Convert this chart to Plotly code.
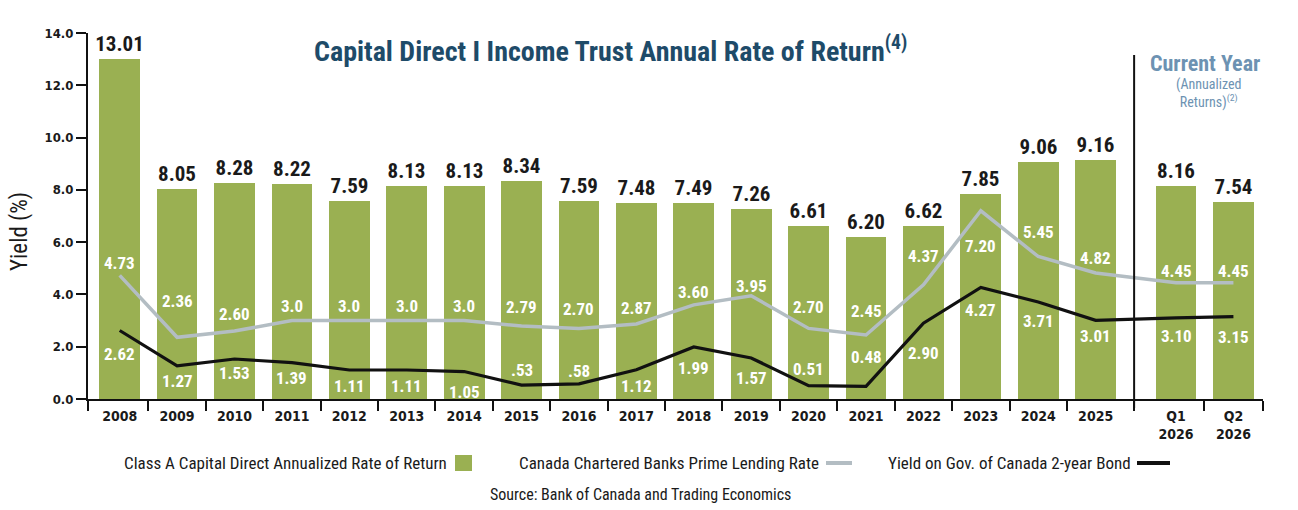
import plotly.graph_objects as go

# ---------------- data ----------------
categories = ["2008", "2009", "2010", "2011", "2012", "2013", "2014", "2015", "2016",
              "2017", "2018", "2019", "2020", "2021", "2022", "2023", "2024", "2025",
              "Q1<br>2026", "Q2<br>2026"]
class_a_return = [13.01, 8.05, 8.28, 8.22, 7.59, 8.13, 8.13, 8.34, 7.59, 7.48, 7.49, 7.26,
                  6.61, 6.20, 6.62, 7.85, 9.06, 9.16, 8.16, 7.54]
prime_rate = [4.73, 2.36, 2.60, 3.0, 3.0, 3.0, 3.0, 2.79, 2.70, 2.87, 3.60, 3.95,
              2.70, 2.45, 4.37, 7.20, 5.45, 4.82, 4.45, 4.45]
prime_text = ["4.73", "2.36", "2.60", "3.0", "3.0", "3.0", "3.0", "2.79", "2.70", "2.87",
              "3.60", "3.95", "2.70", "2.45", "4.37", "7.20", "5.45", "4.82", "4.45", "4.45"]
bond_yield = [2.62, 1.27, 1.53, 1.39, 1.11, 1.11, 1.05, 0.53, 0.58, 1.12, 1.99, 1.57,
              0.51, 0.48, 2.90, 4.27, 3.71, 3.01, 3.10, 3.15]
bond_text = ["2.62", "1.27", "1.53", "1.39", "1.11", "1.11", "1.05", ".53", ".58", "1.12",
             "1.99", "1.57", "0.51", "0.48", "2.90", "4.27", "3.71", "3.01", "3.10", "3.15"]
y_ticks = [0, 2, 4, 6, 8, 10, 12, 14]

# ---------------- styles / layout helpers ----------------
prime_label_shift = [12, 36, 17, 15, 15, 15, 15, 19, 19, 16, 13, 10, 21, 24, 29, -35, 25, 15, 12, 12]
bond_label_shift = [-23, -15, -14, -15, -16, -16, -20, 15, 13, -16, -21, -20, 17, 29, -30, -23, -19, -16, -18, -20]

W, H = 1298, 510
L, R, T, B = 88, 35, 33, 111
PW, PH = W - L - R, H - T - B

def px(xp):
    return (xp - L) / PW

def py(yp):
    return (H - B - yp) / PH

# quarterly entries sit after a wider gap
n_years = 18
x_pos = [i if i < n_years else i + 0.4 for i in range(len(categories))]
x_range = [-0.552, 19.915]

GREEN = "#9AB052"
GRAY = "#B3BDC3"
BLACK = "#111111"
NARROW = "Roboto Condensed, DejaVu Sans Condensed, sans-serif"
COND = "DejaVu Sans Condensed, sans-serif"

fig = go.Figure()
fig.add_trace(go.Bar(
    x=x_pos, y=class_a_return, width=0.71, marker=dict(color=GREEN, line=dict(width=0)),
    texttemplate="%{y:.2f}", textposition="outside", cliponaxis=False,
    constraintext="none",
    textfont=dict(family=NARROW, size=21, color="#1a1a1a", weight="bold"),
    showlegend=False, name="Class A Capital Direct Annualized Rate of Return"))
fig.add_trace(go.Scatter(
    x=x_pos, y=prime_rate, mode="lines", line=dict(color=GRAY, width=3.5),
    showlegend=False, name="Canada Chartered Banks Prime Lending Rate"))
fig.add_trace(go.Scatter(
    x=x_pos, y=bond_yield, mode="lines", line=dict(color=BLACK, width=3.2),
    showlegend=False, name="Yield on Gov. of Canada 2-year Bond"))

annotations = []
lab_font = dict(family=NARROW, size=17, color="white", weight="bold")
for xv, yv, t, s in zip(x_pos, prime_rate, prime_text, prime_label_shift):
    annotations.append(dict(x=xv, y=yv, xref="x", yref="y", text=t, showarrow=False,
                            xanchor="center", yanchor="middle", yshift=s, font=lab_font))
for xv, yv, t, s in zip(x_pos, bond_yield, bond_text, bond_label_shift):
    annotations.append(dict(x=xv, y=yv, xref="x", yref="y", text=t, showarrow=False,
                            xanchor="center", yanchor="middle", yshift=s, font=lab_font))

def note(xp, yp, text, font, xanchor="center", angle=0):
    annotations.append(dict(x=px(xp), y=py(yp), xref="paper", yref="paper", showarrow=False,
                            xanchor=xanchor, yanchor="middle", text=text, textangle=angle,
                            font=font, align="center"))

BLUE_T = "#1E4B69"
BLUE_C = "#6D92B2"
note(610, 49, "Capital Direct I Income Trust Annual Rate of Return<sup>(4)</sup>",
     dict(family=NARROW, size=28, color=BLUE_T, weight="bold"))
note(1205, 64, "Current Year", dict(family=NARROW, size=22, color=BLUE_C, weight="bold"))
note(1208, 94, "(Annualized<br>Returns)<sup>(2)</sup>", dict(family=NARROW, size=14, color=BLUE_C))
note(19, 232, "Yield (%)", dict(family=NARROW, size=23, color="#1a1a1a"), angle=-90)

# custom legend (text followed by its symbol)
leg_font = dict(family=NARROW, size=17, color="#1a1a1a")
note(449, 463, "Class A Capital Direct Annualized Rate of Return", leg_font, xanchor="right")
note(821, 463, "Canada Chartered Banks Prime Lending Rate", leg_font, xanchor="right")
note(1133, 463, "Yield on Gov. of Canada 2-year Bond", leg_font, xanchor="right")
note(640, 494, "Source: Bank of Canada and Trading Economics",
     dict(family=NARROW, size=16, color="#1a1a1a"))

shapes = [
    # separator between annual and current-year values
    dict(type="line", xref="x", yref="paper", x0=17.67, x1=17.67, y0=py(408), y1=py(55),
         line=dict(color=BLACK, width=2)),
    # legend swatches
    dict(type="rect", xref="paper", yref="paper", x0=px(455), x1=px(472), y0=py(471), y1=py(455),
         fillcolor=GREEN, line=dict(width=0)),
    dict(type="line", xref="paper", yref="paper", x0=px(826), x1=px(852), y0=py(463), y1=py(463),
         line=dict(color=GRAY, width=4)),
    dict(type="line", xref="paper", yref="paper", x0=px(1137), x1=px(1170), y0=py(463), y1=py(463),
         line=dict(color=BLACK, width=4)),
]

minor_ticks = [x_range[0] + 0.002] + [k - 0.5 for k in range(1, n_years)] + [17.67, 18.89, 19.91]

fig.update_layout(
    width=W, height=H, margin=dict(l=L, r=R, t=T, b=B, autoexpand=False),
    plot_bgcolor="white", paper_bgcolor="white", bargap=0,
    annotations=annotations, shapes=shapes, showlegend=False,
    xaxis=dict(range=x_range, tickmode="array", tickvals=x_pos, ticktext=categories,
               ticks="", showline=True, linecolor=BLACK, linewidth=2, showgrid=False,
               zeroline=False, ticklabelstandoff=3,
               tickfont=dict(family=COND, size=14, color="#1a1a1a", weight="bold"),
               minor=dict(tickmode="array", tickvals=minor_ticks, ticks="outside",
                          ticklen=10, tickwidth=2, tickcolor=BLACK, showgrid=False)),
    yaxis=dict(range=[0, 14], tickmode="array", tickvals=y_ticks,
               ticktext=[f"{v:.1f}" for v in y_ticks], ticks="outside", ticklen=10,
               tickwidth=2, tickcolor=BLACK, showline=True, linecolor=BLACK, linewidth=2,
               showgrid=False, zeroline=False,
               tickfont=dict(family=COND, size=13, color="#1a1a1a", weight="bold")),
)

fig.write_html("out.html")
